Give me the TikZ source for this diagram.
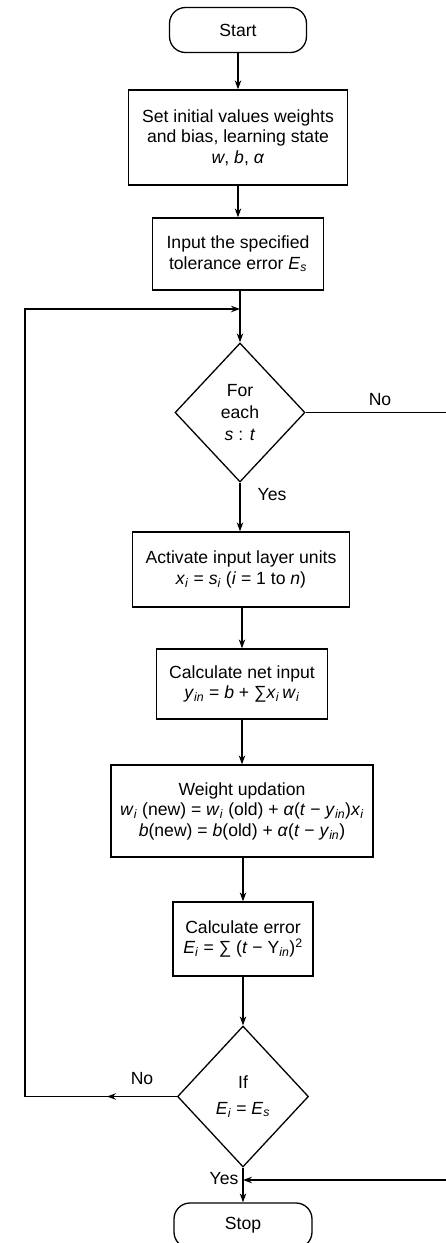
\documentclass[tikz,border=0pt]{standalone}
\usepackage{fontspec}
\setmainfont{Liberation Sans}
\usetikzlibrary{shapes.geometric,arrows.meta,decorations.markings}
\newcommand{\sbi}[1]{\textsubscript{\textit{#1}}}
\begin{document}
\begin{tikzpicture}[x=1pt,y=-1pt,
  every node/.style={font=\fontsize{17.6}{20.5}\selectfont},
  box/.style={draw, line width=1.3pt, align=center, inner sep=0pt},
  term/.style={box, rounded corners=16pt},
  decision/.style={draw, line width=1.3pt, diamond, align=center, inner sep=0pt},
  conn/.style={line width=1.2pt},
  arr/.style={conn, -{Stealth[length=9pt,width=6.5pt]}},
  midarr/.style={conn, postaction={decorate, decoration={markings,
      mark=at position 0.46 with {\arrow{Stealth[length=9pt,width=6.5pt]}}}}},
  lbl/.style={inner sep=0pt}
]
\useasboundingbox (0,0) rectangle (445,1243);

\node[term, minimum width=137pt, minimum height=45pt] (start) at (238,30) {Start};
\node[box, minimum width=219pt, minimum height=95pt] (init) at (238,137.5)
  {Set initial values weights\\and bias, learning state\\\textit{w}, \textit{b}, \textit{α}};
\node[box, minimum width=171pt, minimum height=72pt] (tol) at (238,254)
  {Input the specified\\tolerance error \textit{E}\sbi{s}};
\node[decision, minimum width=130pt, minimum height=139pt,
  font=\fontsize{17.6}{22}\selectfont] (d1) at (240,412.5)
  {For\\each\\\textit{s} : \textit{t}};
\node[box, minimum width=217pt, minimum height=75pt] (act) at (241,569.5)
  {Activate input layer units\\\textit{x}\sbi{i} = \textit{s}\sbi{i} (\textit{i} = 1 to \textit{n})};
\node[box, minimum width=171pt, minimum height=70pt] (net) at (242,684)
  {Calculate net input\\\textit{y}\sbi{in} = \textit{b} + ∑\textit{x}\sbi{i}\,\textit{w}\sbi{i}};
\node[box, minimum width=262pt, minimum height=92pt] (upd) at (242,811)
  {Weight updation\\\textit{w}\sbi{i} (new) = \textit{w}\sbi{i} (old) + \textit{α}(\textit{t} − \textit{y}\sbi{in})\textit{x}\sbi{i}\\\textit{b}(new) = \textit{b}(old) + \textit{α}(\textit{t} − \textit{y}\sbi{in})};
\node[box, minimum width=140pt, minimum height=74pt] (err) at (243,939)
  {Calculate error\\\textit{E}\sbi{i} = ∑ (\textit{t} − Y\sbi{in})\textsuperscript{2}};
\node[decision, minimum width=131pt, minimum height=141pt] (d2) at (243,1096.5)
  {If\\[5pt]\textit{E}\sbi{i} = \textit{E}\sbi{s}};
\node[term, minimum width=138pt, minimum height=45pt] (stop) at (243,1225.5) {Stop};

% labels
\node[lbl] (no1) at (380,400) {No};
\node[lbl] (yes1) at (272,495) {Yes};
\node[lbl] (no2) at (142,1079) {No};
\node[lbl] (yes2) at (224,1179) {Yes};

% coordinates
\coordinate (j1) at (d1.north |- 0,309);
\coordinate (lt) at (25,309);
\coordinate (lb) at (25,1096.5);
\coordinate (rt) at (462,412.5);
\coordinate (rb) at (462,1180);
\coordinate (j2) at (stop.north |- 0,1180);

% main flow
\draw[arr] (start.south) -- (start.south |- init.north);
\draw[arr] (init.south -| tol.north) -- (tol.north);
\draw[arr] (tol.south -| d1.north) -- (d1.north);
\draw[arr] (d1.south) -- (d1.south |- act.north);
\draw[arr] (act.south -| net.north) -- (net.north);
\draw[arr] (net.south) -- (net.south |- upd.north);
\draw[arr] (upd.south -| err.north) -- (err.north);
\draw[arr] (err.south) -- (err.south |- d2.north);
\draw[arr] (d2.south) -- (stop.north);

% loops
\draw[midarr] (d2.west) -- (lb);
\draw[arr] (lb) -- (lt) -- (j1);
\draw[conn] (d1.east) -- (rt) -- (rb);
\draw[arr] (rb) -- (j2);
\end{tikzpicture}
\end{document}
